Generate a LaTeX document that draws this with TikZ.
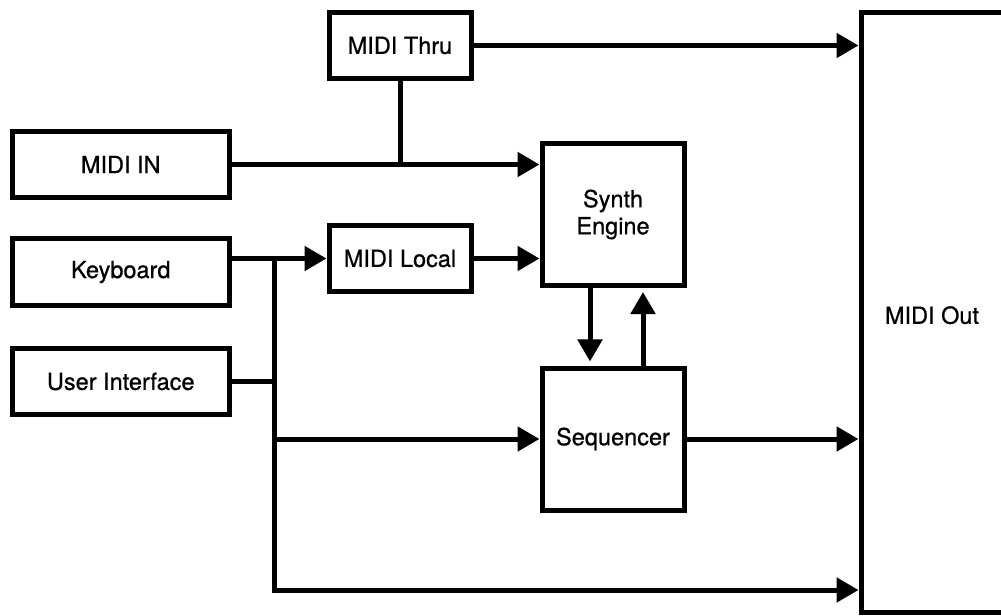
\documentclass[tikz,border=0pt]{standalone}
\usepackage{fontspec}
\setmainfont{TeX Gyre Heros}
\newfontfamily\medfont{TeX Gyre Heros}[FakeBold=0.8]
\usetikzlibrary{arrows.meta}
\begin{document}
\begin{tikzpicture}[x=1bp,y=-1bp,
  box/.style={draw, line width=5bp, rectangle, inner sep=0pt, align=center,
    font=\medfont\fontsize{23.5bp}{27bp}\selectfont},
  small/.style={box, minimum width=142bp, minimum height=66bp},
  wide/.style={box, minimum width=216.5bp, minimum height=66bp},
  big/.style={box, minimum width=142bp, minimum height=142bp},
  conn/.style={line width=5bp, line join=miter},
  arr/.style={conn, -{Triangle[length=22bp,width=24bp]}}]
\clip (0,0) rectangle (1001,616);
\node[small] (thru)  at (400,45.5) {MIDI Thru};
\node[wide]  (midiin) at (120.75,164.5) {MIDI IN};
\node[wide]  (keyb)  at (120.75,272) {Keyboard};
\node[wide]  (ui)    at (120.75,381.5) {User Interface};
\node[small] (local) at (400,258.5) {MIDI Local};
\node[big]   (synth) at (613,214.5) {Synth\\Engine};
\node[big]   (seq)   at (613,439) {Sequencer};
\node[box, minimum width=142bp, minimum height=599.5bp, text height=23bp, text depth=0bp] (out) at (932,312.25) {MIDI Out};
\coordinate (bt) at (274,258.5);
\coordinate (bb) at (274,590);
% connectors
\draw[arr] (thru.east) -- (thru.east -| out.west);
\draw[arr] (midiin.east) -- (midiin.east -| synth.west);
\draw[conn] (thru.south) -- (thru.south |- midiin.east);
\draw[arr] (keyb.east |- local) -- (local.west);
\draw[arr] (local.east) -- (local.east -| synth.west);
\draw[arr] (bt) -- (bb) -- (bb -| out.west);
\draw[conn] (ui.east) -- (ui.east -| bt);
\draw[arr] (bt |- seq.west) -- (seq.west);
\draw[arr] (seq.east) -- (seq.east -| out.west);
\draw[arr, shorten >=4bp] ([xshift=-23bp]synth.south) -- ([xshift=-23bp]synth.south |- seq.north);
\draw[arr, shorten >=4bp] ([xshift=30bp]seq.north) -- ([xshift=30bp]seq.north |- synth.south);
\end{tikzpicture}
\end{document}
